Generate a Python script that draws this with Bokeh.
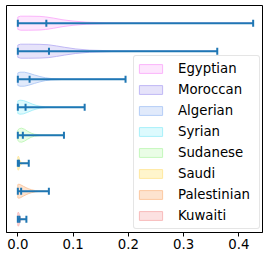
from bokeh.plotting import figure
from bokeh.models import Range1d, FixedTicker, Legend, LegendItem, ColumnDataSource
from bokeh.embed import file_html
from bokeh.resources import INLINE

# ---- data ----
groups = ["Egyptian", "Moroccan", "Algerian", "Syrian", "Sudanese", "Saudi", "Palestinian", "Kuwaiti"]
positions = [1, 2, 3, 4, 5, 6, 7, 8]
mins = [0.0, 0.0, 0.0, 0.0, 0.0, 0.0, 0.0, 0.0]
maxs = [0.426, 0.361, 0.195, 0.121, 0.0835, 0.0198, 0.0562, 0.0155]
means = [0.0516, 0.0564, 0.0213, 0.014, 0.0091, 0.002, 0.0060, 0.003]

# violin density profiles (value, relative half-width)
dens_vals = {
    "Egyptian": [0, 0.005, 0.02, 0.04, 0.05, 0.065, 0.08, 0.1, 0.125, 0.16, 0.22, 0.3, 0.426],
    "Moroccan": [0, 0.005, 0.02, 0.04, 0.055, 0.07, 0.085, 0.105, 0.13, 0.17, 0.25, 0.361],
    "Algerian": [0, 0.004, 0.012, 0.02, 0.03, 0.04, 0.05, 0.06, 0.08, 0.12, 0.195],
    "Syrian": [0, 0.004, 0.01, 0.018, 0.026, 0.033, 0.04, 0.05, 0.07, 0.121],
    "Sudanese": [0, 0.003, 0.007, 0.012, 0.018, 0.024, 0.03, 0.04, 0.06, 0.0835],
    "Saudi": [0, 0.001, 0.002, 0.003, 0.005, 0.008, 0.012, 0.0198],
    "Palestinian": [0, 0.002, 0.005, 0.01, 0.015, 0.02, 0.025, 0.032, 0.04, 0.0562],
    "Kuwaiti": [0, 0.001, 0.002, 0.003, 0.005, 0.008, 0.0155],
}
dens_w = {
    "Egyptian": [0.88, 1.0, 1.0, 0.97, 0.9, 0.72, 0.5, 0.3, 0.14, 0.07, 0.03, 0.01, 0.0],
    "Moroccan": [0.88, 1.0, 1.0, 0.98, 0.92, 0.75, 0.55, 0.32, 0.15, 0.06, 0.02, 0.0],
    "Algerian": [0.9, 1.0, 1.0, 0.85, 0.6, 0.38, 0.2, 0.1, 0.04, 0.01, 0.0],
    "Syrian": [0.9, 1.0, 0.95, 0.72, 0.45, 0.27, 0.14, 0.06, 0.02, 0.0],
    "Sudanese": [0.75, 0.95, 1.0, 0.85, 0.55, 0.3, 0.14, 0.05, 0.01, 0.0],
    "Saudi": [0.9, 1.0, 0.85, 0.5, 0.2, 0.06, 0.02, 0.0],
    "Palestinian": [0.95, 1.0, 0.92, 0.7, 0.5, 0.33, 0.2, 0.08, 0.02, 0.0],
    "Kuwaiti": [0.9, 1.0, 0.85, 0.5, 0.15, 0.03, 0.0],
}
fill_colors = ["#fde6fd", "#e6e3fa", "#e1eafb", "#ddfafd", "#eafde6", "#fff5cc", "#fde3cf", "#fce1e1"]
line_colors = ["#fbb4fb", "#c0b8f5", "#b5cdf7", "#a8f0fa", "#c4f8bc", "#ffe8a0", "#fcc9a2", "#f8bbbb"]
xticks = [0.0, 0.1, 0.2, 0.3, 0.4]

half_width = 0.25
cap = 0.125

p = figure(width=263, height=253, output_backend="svg", toolbar_location=None,
           x_range=Range1d(-0.0205, 0.4429), y_range=Range1d(8.475, 0.368),
           min_border_left=6, min_border_right=1, min_border_top=5, min_border_bottom=21)
p.background_fill_color = "white"
p.border_fill_color = "white"
p.grid.visible = False
p.yaxis.visible = False
p.outline_line_color = "black"
p.outline_line_width = 1
p.outline_line_alpha = 1.0

ax = p.xaxis[0]
ax.ticker = FixedTicker(ticks=xticks)
ax.major_label_overrides = {t: f"{t:.1f}" for t in xticks}
ax.major_tick_in = 0
ax.major_tick_out = 4
ax.minor_tick_line_color = None
ax.axis_line_color = "black"
ax.major_tick_line_color = "black"
ax.major_label_text_font = "DejaVu Sans"
ax.major_label_text_font_size = "13.3px"
ax.major_label_text_color = "black"
ax.major_label_standoff = 2
ax.axis_label_standoff = 0

items = []
for i, g in enumerate(groups):
    pos = positions[i]
    v = dens_vals[g]
    w = dens_w[g]
    xs = list(v) + list(reversed(v))
    ys = [pos - half_width * k for k in w] + [pos + half_width * k for k in reversed(w)]
    r = p.patch(xs, ys, fill_color=fill_colors[i], line_color=line_colors[i], line_width=1)
    items.append(LegendItem(label=g, renderers=[r]))

src = ColumnDataSource(dict(pos=positions, mn=mins, mx=maxs, me=means,
                            lo=[q - cap for q in positions], hi=[q + cap for q in positions]))
bar = "#1f77b4"
p.segment(x0="mn", y0="pos", x1="mx", y1="pos", source=src, line_color=bar, line_width=2)
p.segment(x0="mn", y0="lo", x1="mn", y1="hi", source=src, line_color=bar, line_width=2)
p.segment(x0="mx", y0="lo", x1="mx", y1="hi", source=src, line_color=bar, line_width=2)
p.segment(x0="me", y0="lo", x1="me", y1="hi", source=src, line_color=bar, line_width=2)

legend = Legend(items=items, location=(127, 3), padding=2,
                glyph_width=29, glyph_height=11, label_height=21, label_width=79,
                label_standoff=13, spacing=0,
                label_text_font="DejaVu Sans", label_text_font_size="13.3px",
                label_text_color="black",
                border_line_color="#cccccc", border_line_width=1,
                background_fill_color="white", background_fill_alpha=0.8)
if "border_radius" in Legend.properties():
    legend.border_radius = 3
p.add_layout(legend)

open("out.html", "w").write(file_html(p, INLINE))
